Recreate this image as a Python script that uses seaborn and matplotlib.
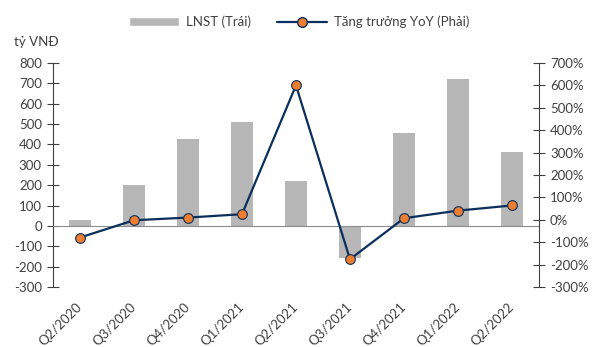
import numpy as np
import pandas as pd
import seaborn as sns
import matplotlib.pyplot as plt
from matplotlib.patches import Patch
from matplotlib.lines import Line2D

# Data
quarters = ['Q2/2020', 'Q3/2020', 'Q4/2020', 'Q1/2021', 'Q2/2021',
            'Q3/2021', 'Q4/2021', 'Q1/2022', 'Q2/2022']
profit = [30, 200, 425, 510, 220, -160, 455, 720, 365]   # LNST, ty VND (left)
yoy = [-79, -2, 10, 25, 600, -176, 7, 41, 64]            # YoY growth, % (right)

df = pd.DataFrame({'quarter': quarters, 'profit': profit, 'yoy': yoy})

sns.set_style('white')
plt.rcParams['font.family'] = ['Lato', 'Noto Sans', 'DejaVu Sans']
plt.rcParams['axes.unicode_minus'] = False
txt = '#404040'
bar_c = '#b7b7b7'
line_c = '#0b2f5c'
dot_c = '#ed7d31'

fig = plt.figure(figsize=(5.98, 3.47), dpi=100)
ax = fig.add_axes([0.0886, 0.1729, 0.8127, 0.6455])

sns.barplot(data=df, x='quarter', y='profit', ax=ax, color=bar_c,
            width=0.4, saturation=1, linewidth=0)
ax.set_xlim(-0.5, len(quarters) - 0.5)
ax.set_ylim(-300, 800)
ax.set_yticks(np.arange(-300, 801, 100))
ax.set_xlabel('')
ax.set_ylabel('')

# zero line acts as category axis, labels stay at the bottom
ax.spines['bottom'].set_position(('data', 0))
ax.spines['bottom'].set_color('#8c8c8c')
ax.spines['top'].set_visible(False)
ax.spines['right'].set_visible(False)
ax.spines['left'].set_color('#404040')
ax.set_xticks(np.arange(-0.5, len(quarters), 1), minor=True)
ax.tick_params(axis='x', which='minor', direction='in', length=4, color='#8c8c8c', width=0.8)
ax.tick_params(axis='x', which='major', length=0, pad=57, labelsize=9.5, labelcolor=txt)
for lab in ax.get_xticklabels():
    lab.set_rotation(45)
    lab.set_ha('right')
    lab.set_va('center')
    lab.set_rotation_mode('anchor')
ax.tick_params(axis='y', direction='inout', length=8, color='#404040', labelsize=9.5,
               labelcolor=txt, pad=4)

ax2 = ax.twinx()
sns.lineplot(x=np.arange(len(quarters)), y=df['yoy'], ax=ax2, color=line_c, linewidth=1.6,
             marker='o', markersize=7, markerfacecolor=dot_c, markeredgecolor=line_c,
             markeredgewidth=0.8)
ax2.set_ylim(-300, 700)
ax2.set_yticks(np.arange(-300, 701, 100))
ax2.set_yticklabels([f'{v}%' for v in range(-300, 701, 100)])
ax2.set_ylabel('')
for s in ['top', 'left', 'bottom']:
    ax2.spines[s].set_visible(False)
ax2.spines['right'].set_color('#404040')
ax2.tick_params(axis='y', direction='inout', length=8, color='#404040', labelsize=9.5,
                labelcolor=txt, pad=4)

fig.text(0.023, 0.878, 'tỷ VNĐ', fontsize=9.5, color=txt, va='center')

handles = [Patch(facecolor=bar_c, label='LNST (Trái)'),
           Line2D([], [], color=line_c, linewidth=1.6, marker='o', markersize=7,
                  markerfacecolor=dot_c, markeredgecolor=line_c, label='Tăng trưởng YoY (Phải)')]
fig.legend(handles=handles, loc='center', bbox_to_anchor=(0.5, 0.937), ncol=2,
           frameon=False, fontsize=9.5, labelcolor=txt, handlelength=3.8,
           handleheight=0.6, columnspacing=2.0, handletextpad=0.5)

fig.savefig('out.png', dpi=100)
